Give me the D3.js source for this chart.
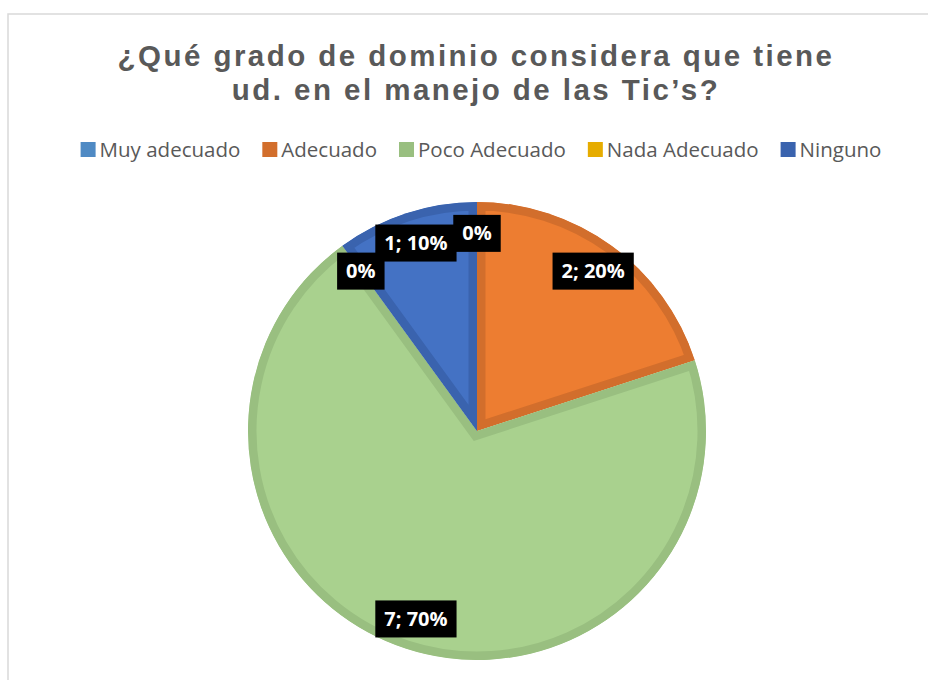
<!DOCTYPE html>
<html>
<head>
<meta charset="utf-8">
<script src="https://cdn.jsdelivr.net/npm/d3@7"></script>
<style>
  body { margin: 0; background: #fff; }
</style>
</head>
<body>
<div id="chart"></div>
<script>
var categories = ["Muy adecuado", "Adecuado", "Poco Adecuado", "Nada Adecuado", "Ninguno"];
var values = [0, 2, 7, 0, 1];
var fillColors = ["#5B9BD5", "#ED7D31", "#A9D18E", "#FFC000", "#4472C4"];
var edgeColors = ["#4F8AC4", "#D26E2C", "#99BF80", "#E6AC00", "#3A63AE"];
var titleLines = ["¿Qué grado de dominio considera que tiene", "ud. en el manejo de las Tic’s?"];

var width = 928, height = 680;
var cx = 477, cy = 431, radius = 229;

var svg = d3.select("#chart")
  .append("svg")
  .attr("width", width)
  .attr("height", height);

// chart area border
svg.append("rect")
  .attr("x", 8)
  .attr("y", 14)
  .attr("width", width + 10)
  .attr("height", height + 10)
  .style("fill", "#fff")
  .style("stroke", "#d9d9d9")
  .style("stroke-width", 1.5);

svg.selectAll("text.title")
  .data(titleLines)
  .enter()
  .append("text")
  .attr("class", "title")
  .attr("x", 476)
  .attr("y", function(d, i) { return 65.5 + i * 34.5; })
  .attr("text-anchor", "middle")
  .attr("font-family", "Liberation Sans, Arial, sans-serif")
  .attr("font-weight", "bold")
  .attr("font-size", "29.5px")
  .attr("letter-spacing", "2.45px")
  .attr("fill", "#595959")
  .text(function(d) { return d; });

// legend
var legend = svg.append("g").attr("class", "legend");
var items = legend.selectAll("g")
  .data(categories)
  .enter()
  .append("g");

items.append("rect")
  .attr("width", 15)
  .attr("height", 15)
  .attr("y", 142)
  .attr("fill", function(d, i) { return edgeColors[i]; });

items.append("text")
  .attr("x", 19)
  .attr("y", 157)
  .attr("font-family", "Open Sans, sans-serif")
  .attr("font-size", "20.5px")
  .attr("fill", "#595959")
  .text(function(d) { return d; });

var widths = [];
items.each(function() { widths.push(this.getBBox().width); });
var gap = 22;
var total = d3.sum(widths) + gap * (widths.length - 1);
var xPos = 481 - total / 2;
items.attr("transform", function(d, i) {
  var t = "translate(" + xPos + ",0)";
  xPos += widths[i] + gap;
  return t;
});

// pie
var pie = d3.pie().sort(null).value(function(d) { return d; });
var arcs = pie(values);
var arc = d3.arc().innerRadius(0).outerRadius(radius);
var sumValues = d3.sum(values);

var g = svg.append("g")
  .attr("transform", "translate(" + cx + "," + cy + ")");

var defs = svg.append("defs");
defs.selectAll("clipPath")
  .data(arcs)
  .enter()
  .append("clipPath")
  .attr("id", function(d, i) { return "clip" + i; })
  .append("path")
  .attr("d", arc);

g.selectAll("path.slice")
  .data(arcs)
  .enter()
  .append("path")
  .attr("class", "slice")
  .attr("d", arc)
  .attr("clip-path", function(d, i) { return "url(#clip" + i + ")"; })
  .attr("fill", function(d, i) { return fillColors[i]; })
  .attr("stroke", function(d, i) { return edgeColors[i]; })
  .attr("stroke-width", 17)
  .attr("stroke-linejoin", "miter");

// data labels
var labelArc = d3.arc().innerRadius(radius * 0.863).outerRadius(radius * 0.863);

var labels = g.selectAll("g.label")
  .data(arcs)
  .enter()
  .append("g")
  .attr("class", "label")
  .attr("transform", function(d) { return "translate(" + labelArc.centroid(d) + ")"; });

labels.append("rect").attr("fill", "#000");

labels.append("text")
  .attr("text-anchor", "middle")
  .attr("y", 7)
  .attr("font-family", "Open Sans, sans-serif")
  .attr("font-weight", "bold")
  .attr("font-size", "20px")
  .attr("fill", "#fff")
  .text(function(d) {
    var pct = Math.round(d.data / sumValues * 100) + "%";
    return d.data === 0 ? pct : d.data + "; " + pct;
  });

labels.each(function() {
  var w = d3.select(this).select("text").node().getBBox().width + 18;
  d3.select(this).select("rect")
    .attr("x", -w / 2)
    .attr("y", -18.5)
    .attr("width", w)
    .attr("height", 37);
});
</script>
</body>
</html>
